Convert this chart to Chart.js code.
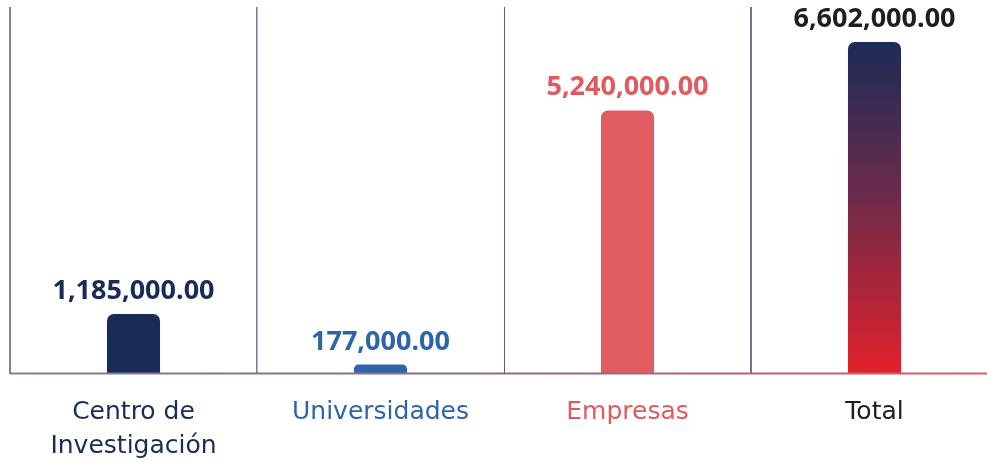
<!DOCTYPE html>
<html lang="es">
<head>
<meta charset="utf-8">
<title>Montos por sector</title>
<script src="https://cdn.jsdelivr.net/npm/chart.js@4.4.1/dist/chart.umd.min.js"></script>
<style>
    html, body { margin: 0; padding: 0; background: #fff; overflow: hidden; }
    #wrap { width: 998px; height: 461px; position: relative; }
</style>
</head>
<body>
<div id="wrap"><canvas id="montosChart"></canvas></div>
<script>
// --- DATOS ---
const categorias = [["Centro de", "Investigación"], "Universidades", "Empresas", "Total"];
const montos = [1185000, 177000, 5240000, 6602000];
const coloresTexto = ["#1b2b57", "#2f64ad", "#e05a60", "#1e1e1e"];
const coloresBarra = ["#1b2b57", "#2f64ad", "#e05c61", null]; // null = degradado (Total)
const coloresDivisor = ["#7b83a3", "#7d7591", "#5e5a78", "#76708e", "#e05c61"];

function formatoMonto(v) {
    return v.toLocaleString("en-US", { minimumFractionDigits: 2, maximumFractionDigits: 2 });
}

// Degradado azul -> rojo para la barra del total
function colorBarra(context) {
    const i = context.dataIndex;
    if (coloresBarra[i]) return coloresBarra[i];
    const chart = context.chart;
    const area = chart.chartArea;
    if (!area) return "#1b2b57";
    const y = chart.scales.y;
    const top = y.getPixelForValue(montos[i]);
    const bottom = y.getPixelForValue(0);
    const g = chart.ctx.createLinearGradient(0, top, 0, bottom);
    g.addColorStop(0, "#1b2b57");
    g.addColorStop(0.45, "#6a2b4b");
    g.addColorStop(1, "#e3212b");
    return g;
}

// Etiquetas de valor encima de cada barra
const etiquetasValor = {
    id: "etiquetasValor",
    afterDatasetsDraw(chart) {
        const ctx = chart.ctx;
        const meta = chart.getDatasetMeta(0);
        ctx.save();
        ctx.font = "bold 27px 'Open Sans'";
        ctx.textAlign = "center";
        ctx.textBaseline = "alphabetic";
        meta.data.forEach((bar, i) => {
            const p = bar.getProps(["x", "y"], true);
            ctx.fillStyle = coloresTexto[i];
            ctx.fillText(formatoMonto(montos[i]), p.x, p.y - 15);
        });
        ctx.restore();
    }
};

// Línea base con degradado
const lineaBase = {
    id: "lineaBase",
    afterDatasetsDraw(chart) {
        const ctx = chart.ctx;
        const area = chart.chartArea;
        const y0 = chart.scales.y.getPixelForValue(0);
        const g = ctx.createLinearGradient(area.left, 0, 987, 0);
        g.addColorStop(0, "#7a80a0");
        g.addColorStop(0.5, "#8a6a86");
        g.addColorStop(1, "#e05a63");
        ctx.save();
        ctx.strokeStyle = g;
        ctx.lineWidth = 2;
        ctx.beginPath();
        ctx.moveTo(area.left, y0);
        ctx.lineTo(area.right, y0);
        ctx.stroke();
        ctx.restore();
    }
};

const canvas = document.getElementById("montosChart");
const ctx = canvas.getContext("2d");

new Chart(ctx, {
    type: "bar",
    data: {
        labels: categorias,
        datasets: [{
            label: "Monto",
            data: montos,
            backgroundColor: colorBarra,
            borderRadius: { topLeft: 7, topRight: 7, bottomLeft: 0, bottomRight: 0 },
            borderSkipped: false,
            barPercentage: 0.215,
            categoryPercentage: 1
        }]
    },
    options: {
        responsive: true,
        maintainAspectRatio: false,
        animation: false,
        layout: { padding: { left: 10, right: 0, top: 7, bottom: -24 } },
        plugins: {
            legend: { display: false },
            tooltip: { enabled: false }
        },
        scales: {
            y: {
                display: false,
                min: 0,
                max: 7300000
            },
            x: {
                offset: true,
                border: { display: false },
                grid: {
                    offset: true,
                    drawTicks: false,
                    color: (c) => coloresDivisor[c.index] || "#7b83a3",
                    lineWidth: (c) => [2, 1.5, 1, 2, 2][c.index] || 1
                },
                ticks: {
                    padding: 22,
                    color: (c) => coloresTexto[c.index],
                    font: { family: "'DejaVu Sans'", size: 25, lineHeight: 1.35 }
                }
            }
        }
    },
    plugins: [etiquetasValor, lineaBase]
});
</script>
</body>
</html>
